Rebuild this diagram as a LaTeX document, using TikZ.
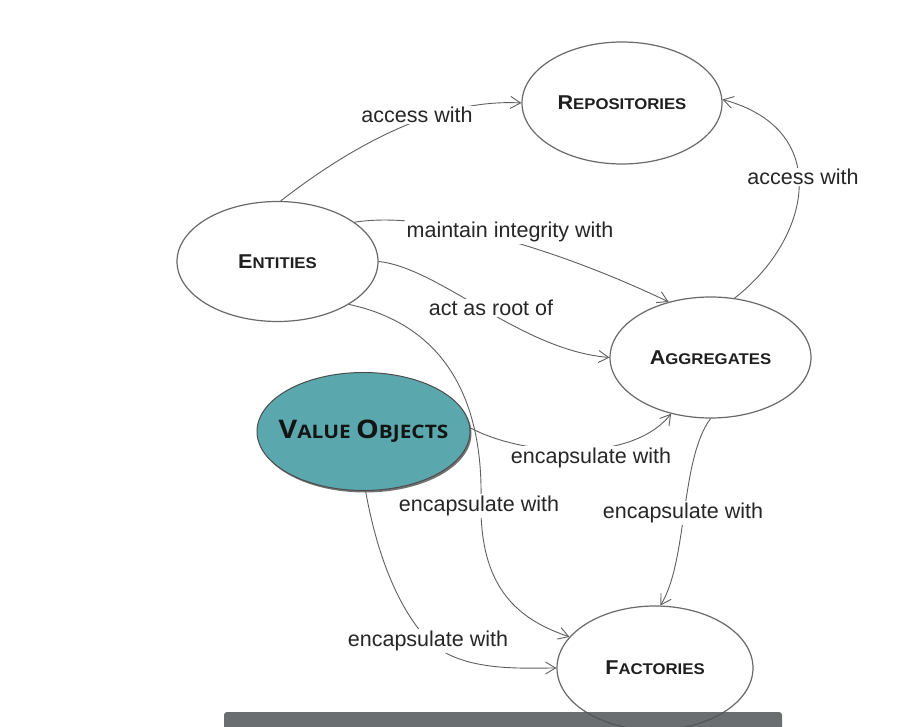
\documentclass[tikz,border=0pt]{standalone}
\usepackage{fontspec}
\setmainfont{Liberation Sans}
\newfontfamily\nodefont[FakeStretch=1.08]{Liberation Sans}
\newfontfamily\vofont[FakeStretch=1.12]{Open Sans}
\usetikzlibrary{shapes.geometric,arrows.meta,shadows}
\definecolor{linegray}{RGB}{95,95,95}
\definecolor{ringgray}{RGB}{105,105,105}
\definecolor{voteal}{RGB}{90,168,173}
\definecolor{bargray}{RGB}{80,85,88}
\newcommand\nodelabel[2]{\nodefont\bfseries{\fontsize{20}{24}\selectfont #1}{\fontsize{15.5}{18}\selectfont #2}}
\tikzset{
  concept/.style={ellipse, draw=ringgray, line width=1.2pt, fill=white, inner sep=0pt, text=black!88},
  rel/.style={draw=linegray, line width=0.9pt, -{Straight Barb[length=10pt,width=12pt,line width=0.9pt]}},
  rellabel/.style={fill=white, inner sep=1.5pt, text=black!85, font=\fontsize{21.5}{25}\selectfont}
}
\begin{document}
\begin{tikzpicture}[x=1pt,y=-1pt]
\clip (0,0) rectangle (902,727);
\fill[white] (0,0) rectangle (902,727);

% concept nodes
\node[concept, minimum width=200pt, minimum height=122pt] (rep) at (622,103) {\nodelabel{R}{EPOSITORIES}};
\node[concept, minimum width=201pt, minimum height=120pt] (ent) at (277.5,261.5) {\nodelabel{E}{NTITIES}};
\node[concept, minimum width=201pt, minimum height=121pt] (agg) at (710.5,357.5) {\nodelabel{A}{GGREGATES}};
\node[concept, minimum width=196pt, minimum height=124pt] (fac) at (655,668) {\nodelabel{F}{ACTORIES}};
\node[ellipse, draw=black!70, line width=1pt, fill=voteal, inner sep=0pt,
      minimum width=213pt, minimum height=118pt,
      drop shadow={shadow xshift=1.5pt, shadow yshift=-2pt, fill=black, opacity=0.55},
      label={[text=black!92, inner sep=0pt]center:{\vofont\bfseries{\fontsize{25.6}{30}\selectfont V}{\fontsize{18.6}{22}\selectfont ALUE }{\fontsize{25.6}{30}\selectfont O}{\fontsize{18.6}{22}\selectfont BJECTS}}}]
  (vo) at (363.5,431.5) {};

% connectors
\draw[rel] (ent.87) .. controls (340,155) and (430,98) .. (rep.180);
\draw[rel] (agg.68) .. controls (810,240) and (835,130) .. (rep.2);
\draw[rel] (ent.27) .. controls (430,210) and (560,250) .. (agg.127);
\draw[rel] (ent.0) .. controls (440,268) and (520,350) .. (agg.180);
\draw[rel] (ent.-31) .. controls (445,325) and (483,400) .. (481,500)
           .. controls (479,590) and (520,620) .. (fac.160);
\draw[rel] (vo.2) .. controls (520,455) and (630,465) .. (agg.235);
\draw[rel] (agg.270) .. controls (680,460) and (688,560) .. (fac.85);
\draw[rel] (vo.272) .. controls (378,560) and (400,610) .. (428,640)
           .. controls (460,672) and (520,668) .. (fac.180);

% labels
\node[rellabel] (l1) at (417,115) {access with};
\node[rellabel] (l2) at (803,177) {access with};
\node[rellabel] (l3) at (510,232) {maintain integrity with};
\node[rellabel] (l4) at (491,308) {act as root of};
\node[rellabel] (l5) at (591,458) {encapsulate with};
\node[rellabel] (l6) at (479,506) {encapsulate with};
\node[rellabel] (l7) at (683,513) {encapsulate with};
\node[rellabel] (l8) at (428,641) {encapsulate with};

% caption bar overlay
\fill[bargray, opacity=0.85, rounded corners=3pt] (224,712) rectangle (782,745);
\end{tikzpicture}
\end{document}
